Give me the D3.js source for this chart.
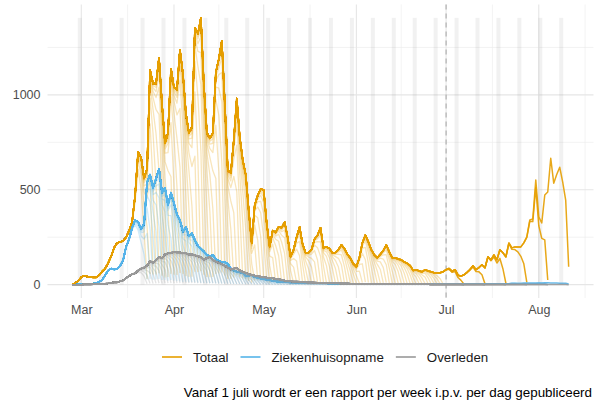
<!DOCTYPE html>
<html>
<head>
<meta charset="utf-8">
<script src="https://cdn.jsdelivr.net/npm/d3@7"></script>
<style>
  body { margin: 0; background: #fff; }
  svg text { font-family: "Liberation Sans", Arial, sans-serif; }
</style>
</head>
<body>
<svg id="chart" width="601" height="405"></svg>
<script>
// daily values from the latest report, starting 27 feb 2020
var start_date = "2020-02-27"
var totaal = [
  3, 8, 20, 40, 47, 43, 40, 38, 38, 50,
  70, 85, 115, 150, 195, 220, 225, 230, 250, 285,
  330, 470, 700, 670, 560, 610, 1130, 1060, 1060, 1196,
  950, 745, 800, 1138, 1040, 1028, 1238, 1110, 900, 800,
  830, 1354, 1322, 1406, 1050, 800, 771, 800, 1120, 1190,
  1285, 955, 603, 588, 760, 981, 777, 656, 580, 390,
  220, 420, 470, 505, 498, 325, 200, 285, 275, 305,
  300, 330, 252, 147, 184, 250, 304, 215, 168, 168,
  185, 240, 260, 300, 194, 199, 190, 168, 170, 185,
  210, 190, 160, 140, 110, 94, 142, 220, 262, 226,
  184, 157, 142, 160, 180, 210, 173, 142, 142, 135,
  131, 120, 112, 100, 75, 79, 72, 68, 79, 72,
  68, 63, 63, 63, 68, 79, 85, 70, 79, 50,
  45, 52, 65, 80, 100, 79, 90, 105, 89, 147,
  131, 157, 131, 184, 168, 147, 220, 194, 199, 199,
  199, 220, 252, 341, 346, 551, 357, 325, 472, 488,
  666, 535, 580, 619, 540, 446, 94
]
var ziekenhuisopname = [
  0, 0, 1, 1, 2, 3, 4, 5, 8, 15,
  25, 50, 75, 85, 80, 82, 100, 130, 200, 240,
  300, 340, 330, 295, 320, 540, 580, 510, 560, 610,
  485, 510, 420, 485, 430, 370, 340, 280, 305, 255,
  270, 235, 205, 190, 175, 157, 147, 157, 135, 125,
  120, 118, 110, 85, 75, 68, 65, 63, 45, 48,
  52, 40, 37, 32, 30, 26, 24, 20, 18, 16,
  16, 15, 14, 12, 12, 11, 10, 10, 9, 9,
  8, 8, 8, 7, 7, 7, 6, 6, 6, 6,
  5, 5, 5, 5, 5, 4, 4, 4, 4, 4,
  3, 3, 3, 3, 3, 3, 3, 3, 3, 2,
  2, 2, 2, 2, 2, 2, 2, 2, 2, 2,
  2, 2, 2, 2, 2, 2, 2, 2, 2, 2,
  3, 3, 3, 3, 3, 3, 3, 3, 4, 4,
  4, 4, 5, 5, 5, 5, 5, 6, 6, 6,
  6, 7, 7, 8, 8, 8, 9, 9, 10, 10,
  9, 9, 9, 8, 8, 7, 3
]
var overleden = [
  0, 0, 0, 0, 1, 1, 1, 2, 2, 3,
  4, 5, 7, 10, 12, 12, 18, 22, 35, 45,
  55, 60, 75, 85, 90, 100, 125, 115, 130, 145,
  140, 160, 165, 168, 172, 170, 170, 165, 165, 158,
  160, 155, 150, 145, 132, 140, 147, 130, 122, 115,
  108, 100, 90, 80, 85, 88, 75, 68, 62, 55,
  52, 48, 45, 42, 40, 38, 37, 35, 30, 28,
  26, 22, 20, 18, 16, 16, 15, 14, 13, 12,
  12, 11, 10, 10, 9, 9, 8, 8, 7, 7,
  6, 6, 6, 5, 5, 5, 5, 4, 4, 4,
  4, 3, 3, 3, 3, 3, 3, 3, 2, 2,
  2, 2, 2, 2, 2, 2, 2, 2, 2, 2,
  1, 1, 1, 1, 1, 1, 1, 1, 1, 1,
  1, 1, 1, 1, 1, 1, 1, 1, 1, 1,
  1, 1, 1, 1, 1, 1, 1, 1, 1, 1,
  1, 1, 1, 1, 1, 1, 1, 1, 1, 1,
  1, 1, 1, 1, 1, 1, 0
]

// reports: daily until end of june, weekly after
var daily_reports = ["2020-03-23", "2020-06-30"]
var weekly_reports = ["2020-07-07", "2020-07-14", "2020-07-21", "2020-07-28", "2020-08-04", "2020-08-11"]
// share of the final count already known, by days between date and report
var completeness = [0.05, 0.5, 0.75, 0.87, 0.93, 0.96, 0.98, 0.99, 1]

var series_names = ["Totaal", "Ziekenhuisopname", "Overleden"]
var series_colors = ["#E69F00", "#56B4E9", "#999999"]
var y_major = [0, 500, 1000]
var y_minor = [250, 750, 1250]
var months = ["2020-03-01", "2020-04-01", "2020-05-01", "2020-06-01", "2020-07-01", "2020-08-01", "2020-09-01"]
var month_labels = ["Mar", "Apr", "May", "Jun", "Jul", "Aug"]
var cutoff_date = "2020-07-01"
var caption = "Vanaf 1 juli wordt er een rapport per week i.p.v. per dag gepubliceerd"

var panel = {left: 47.5, right: 593.5, top: 4.5, bottom: 298}
var svg = d3.select("#chart")
var parse = d3.timeParse("%Y-%m-%d")
var t0 = parse(start_date)
var values = [totaal, ziekenhuisopname, overleden]
var dates = totaal.map(function(v, i){ return d3.timeDay.offset(t0, i) })

var x_ext = d3.extent(dates)
var x_pad = (x_ext[1] - x_ext[0]) * 0.05
var x = d3.scaleTime()
    .domain([new Date(+x_ext[0] - x_pad), new Date(+x_ext[1] + x_pad)])
    .range([panel.left, panel.right])
var y_max = d3.max(totaal)
var y = d3.scaleLinear()
    .domain([-0.05 * y_max, 1.05 * y_max])
    .range([panel.bottom, panel.top])

var month_dates = months.map(parse)
var minor_dates = d3.pairs(month_dates).map(function(p){ return new Date((+p[0] + +p[1]) / 2) })

//Grid
var grid = svg.append("g")
grid.selectAll(".ymin").data(y_minor).enter().append("line")
    .attr("x1", panel.left).attr("x2", panel.right)
    .attr("y1", function(d){ return y(d) }).attr("y2", function(d){ return y(d) })
    .attr("stroke", "#ebebeb").attr("stroke-width", 0.6)
grid.selectAll(".xmin").data(minor_dates).enter().append("line")
    .attr("y1", panel.top).attr("y2", panel.bottom)
    .attr("x1", function(d){ return x(d) }).attr("x2", function(d){ return x(d) })
    .attr("stroke", "#ebebeb").attr("stroke-width", 0.6)
grid.selectAll(".ymaj").data(y_major).enter().append("line")
    .attr("x1", panel.left).attr("x2", panel.right)
    .attr("y1", function(d){ return y(d) }).attr("y2", function(d){ return y(d) })
    .attr("stroke", "#e6e6e6").attr("stroke-width", 1.1)
grid.selectAll(".xmaj").data(month_dates.slice(0, month_labels.length)).enter().append("line")
    .attr("y1", panel.top).attr("y2", panel.bottom)
    .attr("x1", function(d){ return x(d) }).attr("x2", function(d){ return x(d) })
    .attr("stroke", "#e6e6e6").attr("stroke-width", 1.1)

//Weekend bands
var saturdays = d3.timeSaturday.range(t0, x_ext[1])
svg.append("g").selectAll("rect").data(saturdays).enter().append("rect")
    .attr("x", function(d){ return x(d3.timeHour.offset(d, -4)) })
    .attr("width", function(d){ return x(d3.timeHour.offset(d, 28)) - x(d3.timeHour.offset(d, -4)) })
    .attr("y", y(y_max))
    .attr("height", y(0) - y(y_max))
    .attr("fill", "#808080").attr("fill-opacity", 0.11)

svg.append("line")
    .attr("x1", x(parse(cutoff_date))).attr("x2", x(parse(cutoff_date)))
    .attr("y1", panel.top).attr("y2", panel.bottom)
    .attr("stroke", "#aaaaaa").attr("stroke-width", 1.1)
    .attr("stroke-dasharray", "5,4")

//One line per report and series
var reports = d3.timeDay.range(parse(daily_reports[0]), d3.timeDay.offset(parse(daily_reports[1]), 1))
    .map(function(d){ return {date: d, weekly: false} })
    .concat(weekly_reports.map(function(d){ return {date: parse(d), weekly: true} }))
var last_report = reports[reports.length - 1].date

var line = d3.line()
    .x(function(d){ return x(d.date) })
    .y(function(d){ return y(d.value) })

values.forEach(function(vals, s){
  var g = svg.append("g").attr("class", "series-" + s)
  reports.forEach(function(r){
    var k = d3.timeDay.count(t0, r.date)
    var pts = []
    for(var i = 0; i <= k && i < vals.length; i++){
      var f = +r.date == +last_report ? 1 : completeness[Math.min(k - i, completeness.length - 1)]
      pts.push({date: dates[i], value: vals[i] * f})
    }
    g.append("path")
      .attr("d", line(pts))
      .attr("fill", "none")
      .attr("stroke", series_colors[s])
      .attr("stroke-width", r.weekly ? 1.5 : 1.3)
      .attr("stroke-linejoin", "round")
      .attr("stroke-opacity", r.weekly ? 0.9 : 0.27)
  })
})

//Axes
var y_axis = svg.append("g")
    .attr("transform", "translate(" + panel.left + ",0)")
    .call(d3.axisLeft(y).tickValues(y_major).tickSize(0).tickPadding(7).tickFormat(d3.format("d")))
var x_axis = svg.append("g")
    .attr("transform", "translate(0," + panel.bottom + ")")
    .call(d3.axisBottom(x).tickValues(month_dates.slice(0, month_labels.length)).tickSize(0).tickPadding(7)
      .tickFormat(function(d, i){ return month_labels[i] }))
svg.selectAll(".domain").remove()
svg.selectAll(".tick text")
    .attr("fill", "#4d4d4d")
    .style("font-size", "12.5px")
    .style("font-family", "'Liberation Sans', Arial, sans-serif")

//Legend
var legend = svg.append("g").attr("transform", "translate(162,357)")
var lx = 0
series_names.forEach(function(name, i){
  legend.append("line")
    .attr("x1", lx).attr("x2", lx + 20)
    .attr("stroke", series_colors[i]).attr("stroke-width", 1.6)
  var t = legend.append("text")
    .attr("x", lx + 31).attr("dy", "0.35em")
    .style("font-size", "13.3px")
    .attr("fill", "#1a1a1a")
    .text(name)
  lx += 31 + t.node().getComputedTextLength() + 12
})

svg.append("text")
    .attr("x", 592).attr("y", 397)
    .attr("text-anchor", "end")
    .style("font-size", "13.4px")
    .attr("fill", "#000")
    .text(caption)
</script>
</body>
</html>
